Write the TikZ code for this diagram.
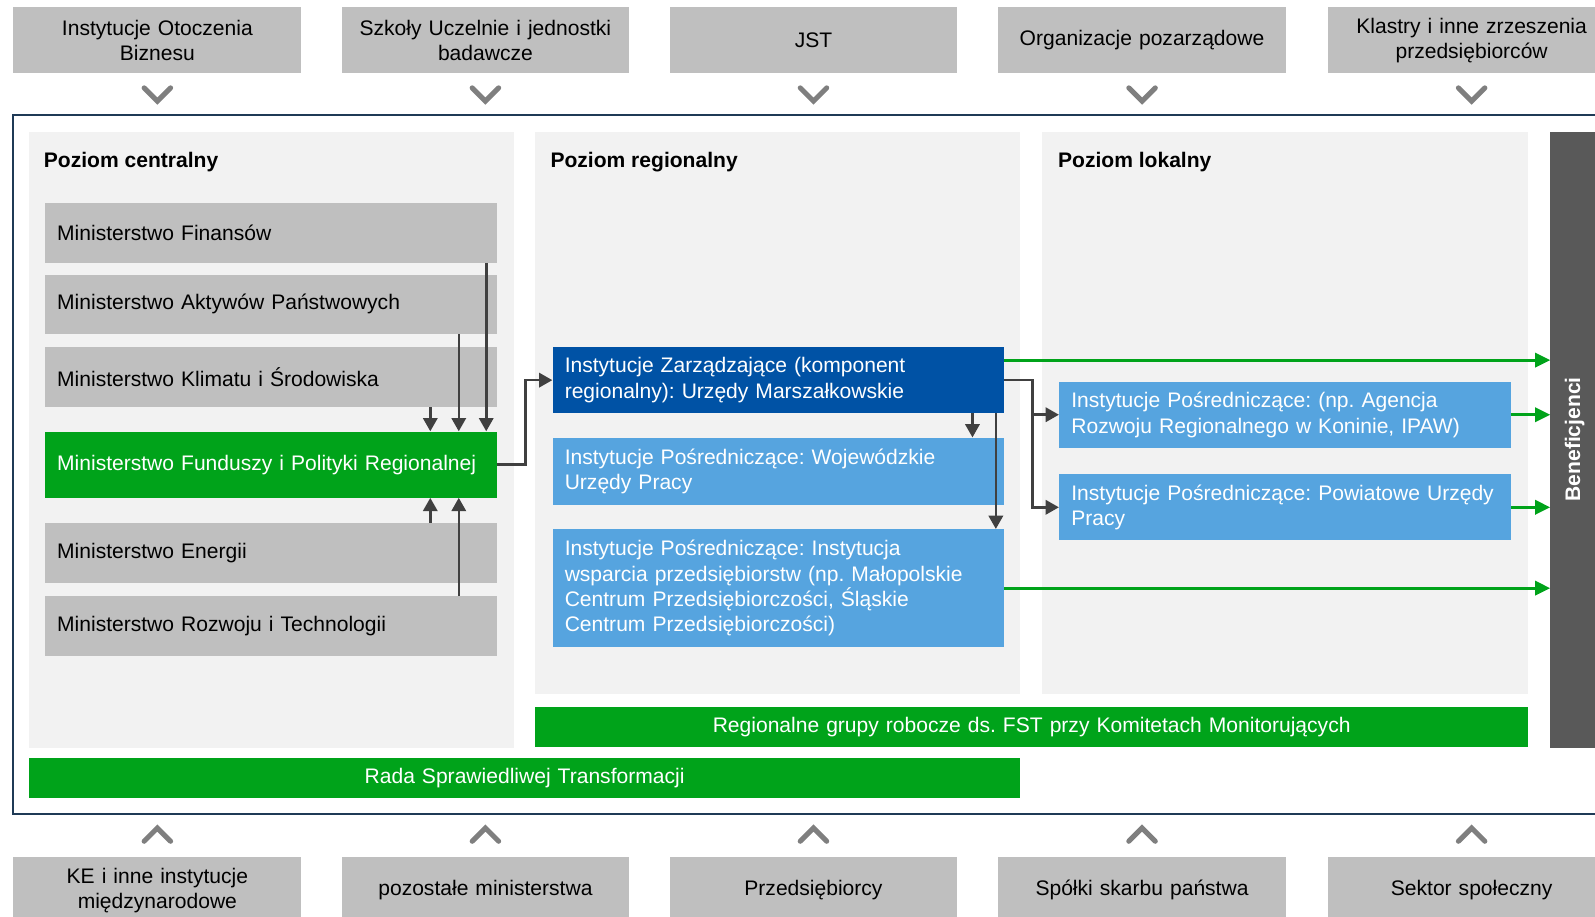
\documentclass[tikz,border=0pt]{standalone}
\usepackage{fontspec}
\setmainfont{Liberation Sans}
\usetikzlibrary{arrows.meta,calc}
\frenchspacing
\definecolor{gbox}{HTML}{BFBFBF}
\definecolor{panel}{HTML}{F2F2F2}
\definecolor{fgreen}{HTML}{00A31A}
\definecolor{dblue}{HTML}{0052A5}
\definecolor{lblue}{HTML}{56A4DF}
\definecolor{bgray}{HTML}{595959}
\definecolor{arrgray}{HTML}{404040}
\definecolor{chevgray}{HTML}{7F7F7F}
\definecolor{navy}{HTML}{1F3A56}
\newcommand\mybox[7]{\node[#2,anchor=north west,inner ysep=0pt,inner xsep=12pt,
  minimum width=\dimexpr #5pt-#3pt\relax,minimum height=\dimexpr #6pt-#4pt\relax,
  text width=\dimexpr #5pt-#3pt-24pt\relax] (#1) at (#3,#4) {#7};}
\begin{document}
\begin{tikzpicture}[x=1pt,y=-1pt,
  txt/.style={font=\fontsize{20.7}{25}\selectfont\frenchspacing},
  graybox/.style={fill=gbox,txt,text=black},
  cbox/.style={graybox,align=center},
  lbox/.style={graybox,align=left},
  greenbox/.style={fill=fgreen,txt,text=white},
  dbbox/.style={fill=dblue,txt,text=white,align=left},
  lbbox/.style={fill=lblue,txt,text=white,align=left},
  panelbox/.style={fill=panel},
  head/.style={font=\fontsize{20.7}{25}\selectfont\bfseries,anchor=west,inner sep=0pt},
  chev/.style={draw=chevgray,line width=5pt,line cap=round,line join=miter},
  arr/.style={draw=arrgray,line width=2.5pt,-{Triangle[length=13pt,width=14pt]}},
  garr/.style={draw=fgreen,line width=3pt,-{Triangle[length=15pt,width=14pt]}},
  frame/.style={draw=navy,line width=2pt}]
\useasboundingbox (0,0) rectangle (1568,900.5);

% top boxes
\mybox{t1}{cbox}{13}{7}{296}{72}{Instytucje Otoczenia\\Biznesu}
\mybox{t2}{cbox}{336}{7}{618}{72}{Szkoły Uczelnie i jednostki\\badawcze}
\mybox{t3}{cbox}{658}{7}{941}{72}{JST}
\mybox{t4}{cbox}{981}{7}{1264}{72}{Organizacje pozarządowe}
\mybox{t5}{cbox}{1305}{7}{1588}{72}{Klastry i inne zrzeszenia\\przedsiębiorców}
\foreach \n in {t1,t2,t3,t4,t5}
  \draw[chev] ([xshift=-13pt,yshift=-14pt]\n.south) -- ++(13,13) -- ++(13,-13);

% bottom boxes
\mybox{b1}{cbox}{13}{842}{296}{908}{KE i inne instytucje\\międzynarodowe}
\mybox{b2}{cbox}{336}{842}{618}{908}{pozostałe ministerstwa}
\mybox{b3}{cbox}{658}{842}{941}{908}{Przedsiębiorcy}
\mybox{b4}{cbox}{981}{842}{1264}{908}{Spółki skarbu państwa}
\mybox{b5}{cbox}{1305}{842}{1588}{908}{Sektor społeczny}
\foreach \n in {b1,b2,b3,b4,b5}
  \draw[chev] ([xshift=-13pt,yshift=15pt]\n.north) -- ++(13,-13) -- ++(13,13);

% frame
\draw[frame] (13,113) rectangle (1620,800);

% panels
\mybox{pc}{panelbox}{28}{130}{505}{735}{}
\mybox{pr}{panelbox}{526}{130}{1003}{682}{}
\mybox{pl}{panelbox}{1024}{130}{1502}{682}{}
\mybox{bn}{fill=bgray}{1524}{130}{1620}{735}{}
\node[rotate=90,font=\fontsize{20.7}{25}\selectfont\bfseries,text=white] (bnt) at (1548,432) {Beneficjenci};

\node[head] (hc) at (43,159) {Poziom centralny};
\node[head] (hr) at (541,159) {Poziom regionalny};
\node[head] (hl) at (1040,159) {Poziom lokalny};

% ministries
\mybox{mf}{lbox}{44}{199}{488}{258}{Ministerstwo Finansów}
\mybox{ma}{lbox}{44}{270}{488}{328}{Ministerstwo Aktywów Państwowych}
\mybox{mk}{lbox}{44}{341}{488}{400}{Ministerstwo Klimatu i Środowiska}
\mybox{mr}{greenbox,align=left}{44}{424}{488}{489}{Ministerstwo Funduszy i Polityki Regionalnej}
\mybox{me}{lbox}{44}{514}{488}{573}{Ministerstwo Energii}
\mybox{mt}{lbox}{44}{586}{488}{645}{Ministerstwo Rozwoju i Technologii}

\coordinate (x1) at (423,0);
\coordinate (x2) at (451,0);
\coordinate (x3) at (478,0);
\draw[arr] (mf.south -| x3) -- (mr.north -| x3);
\draw[arr] (ma.south -| x2) -- (mr.north -| x2);
\draw[arr] (mk.south -| x1) -- (mr.north -| x1);
\draw[arr] (me.north -| x1) -- (mr.south -| x1);
\draw[arr] (mt.north -| x2) -- (mr.south -| x2);

% regional
\mybox{iz}{dbbox}{543}{341}{987}{406}{Instytucje Zarządzające (komponent\\regionalny): Urzędy Marszałkowskie}
\mybox{wup}{lbbox}{543}{430}{987}{496}{Instytucje Pośredniczące: Wojewódzkie\\Urzędy Pracy}
\mybox{iw}{lbbox}{543}{520}{987}{636}{Instytucje Pośredniczące: Instytucja\\wsparcia przedsiębiorstw (np. Małopolskie\\Centrum Przedsiębiorczości, Śląskie\\Centrum Przedsiębiorczości)}

\draw[arr] (mr.east) -- ++(28,0) |- (iz.west);
\coordinate (x4) at (956,0);
\coordinate (x5) at (979,0);
\draw[arr] (iz.south -| x4) -- (wup.north -| x4);
\draw[arr] (iz.south -| x5) -- (iw.north -| x5);

% local
\mybox{ip1}{lbbox}{1041}{375}{1485}{440}{Instytucje Pośredniczące: (np. Agencja\\Rozwoju Regionalnego w Koninie, IPAW)}
\mybox{ip2}{lbbox}{1041}{466}{1485}{531}{Instytucje Pośredniczące: Powiatowe Urzędy\\Pracy}
\coordinate (x6) at (1015,0);
\draw[arr] (iz.east) -| (x6 |- ip1.west) -- (ip1.west);
\draw[arr] (iz.east) -| (x6 |- ip2.west) -- (ip2.west);

% green arrows to beneficiaries
\coordinate (g1) at (0,354);
\draw[garr] (iz.east |- g1) -- (bn.west |- g1);
\draw[garr] (ip1.east) -- (ip1.east -| bn.west);
\draw[garr] (ip2.east) -- (ip2.east -| bn.west);
\draw[garr] (iw.east) -- (iw.east -| bn.west);

% bars
\mybox{rg}{greenbox,align=center}{526}{695}{1502}{734}{Regionalne grupy robocze ds. FST przy Komitetach Monitorujących}
\mybox{rst}{greenbox,align=center}{28}{745}{1003}{784}{Rada Sprawiedliwej Transformacji}
\end{tikzpicture}
\end{document}
